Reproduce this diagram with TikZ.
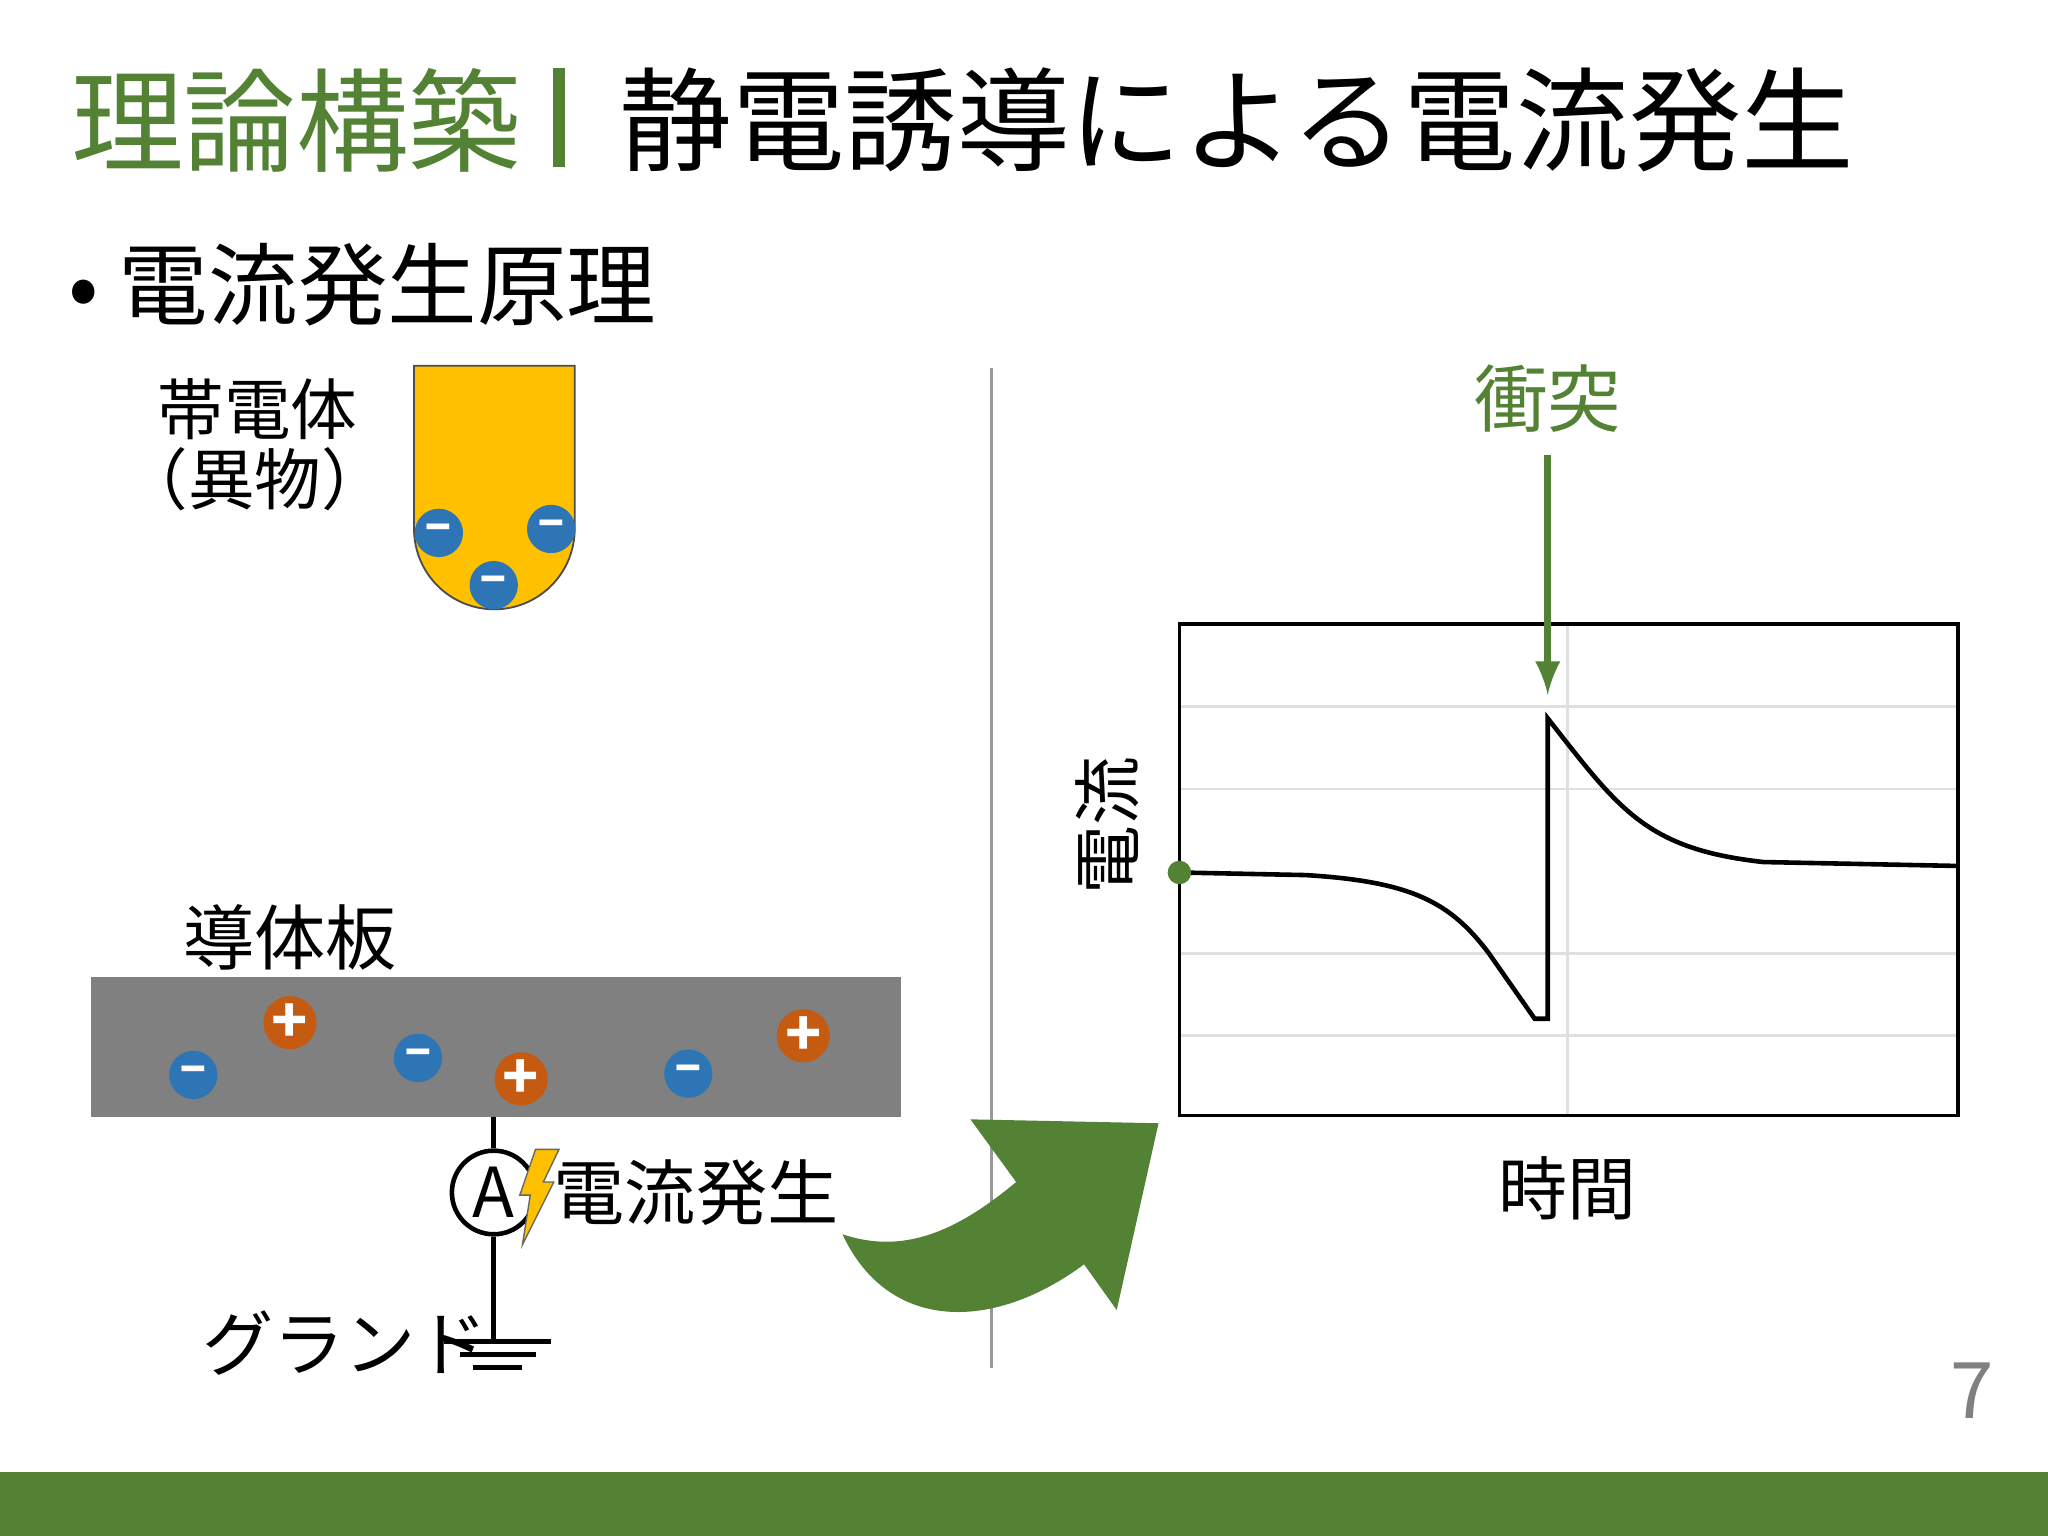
\documentclass[tikz,border=0pt]{standalone}
\usepackage{fontspec}
\setmainfont{Noto Sans CJK JP}
\definecolor{gr}{HTML}{548235}
\definecolor{yel}{HTML}{FFC000}
\definecolor{blu}{HTML}{2E75B6}
\definecolor{ora}{HTML}{C55A11}
\begin{document}
\begin{tikzpicture}[x=0.01cm,y=-0.01cm,
  negc/.style={circle,fill=blu,minimum size=0.37cm,inner sep=0pt,text=white,font=\bfseries\fontsize{11}{11}\selectfont},
  posc/.style={circle,fill=ora,minimum size=0.37cm,inner sep=0pt,text=white,font=\bfseries\fontsize{13}{13}\selectfont},
  gridl/.style={draw=black!12,line width=0.6pt}]
\useasboundingbox (0,0) rectangle (1568,1176);
\fill[white] (0,0) rectangle (1568,1176);
\fill[gr] (0,1127) rectangle (1568,1176);
% title
\node[anchor=west,text=gr,font=\fontsize{24.5}{24.5}\selectfont] (t1) at (42,92) {理論構築};
\draw[gr,line width=2.5pt] (428,52) -- (428,128);
\node[anchor=west,font=\fontsize{24.5}{24.5}\selectfont] (t2) at (462,92) {静電誘導による電流発生};
\node[anchor=west,font=\fontsize{19.5}{19.5}\selectfont] (b) at (40,218) {• 電流発生原理};
% charged body
\node[font=\fontsize{14.5}{14.5}\selectfont] (lab1) at (197,313) {帯電体};
\node[font=\fontsize{14.5}{14.5}\selectfont] (lab1b) at (195,367) {（異物）};
\draw[fill=yel,draw=black!70,line width=0.4pt] (317,280) -- (440,280) -- (440,405) arc[start angle=0,end angle=180,radius=61.5] -- cycle;
\node[negc] (n1) at (336,408) {–};
\node[negc] (n2) at (422,405) {–};
\node[negc] (n3) at (378,448) {–};
% divider
\draw[black!40,line width=0.6pt] (759,282) -- (759,1047);
% plate
\node[font=\fontsize{15.5}{15.5}\selectfont] (lab2) at (222,718) {導体板};
\fill[black!50] (70,748) rectangle (690,855);
\node[negc] (p1) at (148,823) {–};
\node[negc] (p2) at (320,810) {–};
\node[negc] (p3) at (527,822) {–};
\node[posc] (q1) at (222,783) {+};
\node[posc] (q2) at (399,826) {+};
\node[posc] (q3) at (615,793) {+};
% ammeter
\coordinate (top) at (378,855);
\node[circle,draw,line width=1pt,minimum size=0.64cm,inner sep=0pt,font=\fontsize{15}{15}\selectfont] (am) at (378,913) {A};
\coordinate (gnd) at (378,1027);
\draw[line width=1pt] (top) -- (am.north);
\draw[line width=1pt] (am.south) -- (gnd);
\draw[line width=1pt] (340,1027) -- (422,1027) (352,1037) -- (410,1037) (362,1047) -- (400,1047);
\node[font=\fontsize{15.5}{15.5}\selectfont] (lab3) at (264,1028) {グランド};
\fill[yel,draw=black!60,line width=0.3pt] (410,880) -- (428,880) -- (416,905) -- (424,905) -- (400,953) -- (406,915) -- (398,915) -- cycle;
\node[font=\fontsize{15.5}{15.5}\selectfont] (lab4) at (533,913) {電流発生};
% big arrow
\fill[gr] (645,945) .. controls (680,1020) and (760,1020) .. (830,968) -- (855,1003) -- (887,860) -- (743,857) -- (778,905) .. controls (730,945) and (690,960) .. cycle;
% chart
\draw[gridl] (903,541) -- (1499,541) (903,604) -- (1499,604) (903,730) -- (1499,730) (903,793) -- (1499,793) (1200,478) -- (1200,854);
\draw[line width=0.8pt] (903,478) rectangle (1499,854);
\draw[line width=1pt] (903,668) -- (1000,670) .. controls (1080,675) and (1110,690) .. (1140,730) -- (1175,780) -- (1185,780) -- (1185,550) .. controls (1240,620) and (1260,650) .. (1350,660) -- (1499,663);
\fill[gr] (903,668) circle (9);
\node[rotate=90,font=\fontsize{15}{15}\selectfont] (yl) at (848,632) {電流};
\node[font=\fontsize{15}{15}\selectfont] (xl) at (1200,910) {時間};
\node[text=gr,font=\fontsize{16}{16}\selectfont] (co) at (1185,305) {衝突};
\coordinate (hit) at (1185,532);
\draw[gr,line width=1.5pt,-latex] (1185,348) -- (hit);
\node[text=black!50,font=\fontsize{17}{17}\selectfont] (pg) at (1510,1065) {7};
\end{tikzpicture}
\end{document}
